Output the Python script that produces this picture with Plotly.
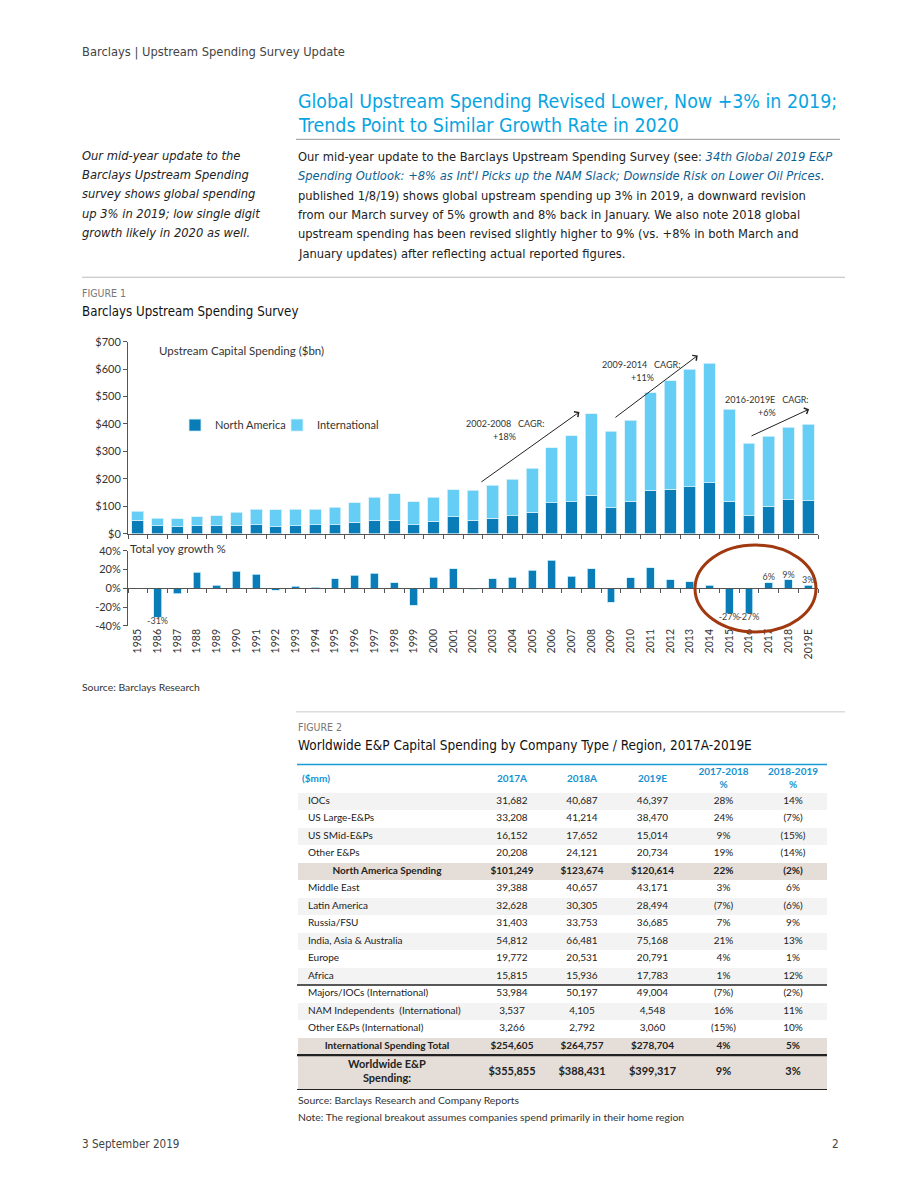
import plotly.graph_objects as go

# ---------------- DATA ----------------
years = ["1985", "1986", "1987", "1988", "1989", "1990", "1991", "1992", "1993", "1994",
         "1995", "1996", "1997", "1998", "1999", "2000", "2001", "2002", "2003", "2004",
         "2005", "2006", "2007", "2008", "2009", "2010", "2011", "2012", "2013", "2014",
         "2015", "2016", "2017", "2018", "2019E"]
north_america = [50, 29, 26, 29, 29, 29, 33, 26, 29, 33, 33, 41, 49, 49, 33, 45, 61, 49, 57, 65,
                 79, 112, 116, 140, 95, 118, 158, 162, 171, 186, 118, 65, 101, 124, 121]
international = [32, 28, 28, 32, 37, 49, 57, 62, 60, 57, 64, 72, 84, 96, 84, 88, 99, 109, 120, 134,
                 160, 202, 242, 297, 279, 296, 355, 395, 429, 435, 335, 264, 255, 264, 278]
growth = [None, -31, -6, 17, 3, 18, 15, -2, 2, 1, 10, 14, 16, 6, -18, 12, 21, -1, 10, 12,
          19, 30, 13, 21, -15, 11, 22, 9, 7, 3, -27, -27, 6, 9, 3]
labeled_years = ["1986", "1987", "1992", "1999", "2002", "2009", "2015", "2016", "2017", "2018", "2019E"]

spend_ticks = [0, 100, 200, 300, 400, 500, 600, 700]
growth_ticks = [-40, -20, 0, 20, 40]

row_labels = ["IOCs", "US Large-E&Ps", "US SMid-E&Ps", "Other E&Ps", "North America Spending",
              "Middle East", "Latin America", "Russia/FSU", "India, Asia & Australia", "Europe", "Africa",
              "Majors/IOCs (International)", "NAM Independents  (International)", "Other E&Ps (International)",
              "International Spending Total", "Worldwide E&P<br>Spending:"]
v2017 = [31682, 33208, 16152, 20208, 101249, 39388, 32628, 31403, 54812, 19772, 15815, 53984, 3537, 3266, 254605, 355855]
v2018 = [40687, 41214, 17652, 24121, 123674, 40657, 30305, 33753, 66481, 20531, 15936, 50197, 4105, 2792, 264757, 388431]
v2019 = [46397, 38470, 15014, 20734, 120614, 43171, 28494, 36685, 75168, 20791, 17783, 49004, 4548, 3060, 278704, 399317]
chg_1718 = [28, 24, 9, 19, 22, 3, -7, 7, 21, 4, 1, -7, 16, -15, 4, 9]
chg_1819 = [14, -7, -15, -14, -2, 6, -6, 9, 13, 1, 12, -2, 11, 10, 5, 3]
total_rows = [4, 14, 15]
table_header = ["($mm)", "2017A", "2018A", "2019E", "2017-2018<br>%", "2018-2019<br>%"]

# ---------------- STYLE ----------------
W, H = 920, 1191
NA_COL = "#0a7db8"
INT_COL = "#66cdf5"
CHART_FONT = "Lato, Calibri, sans-serif"
PAGE_FONT = "DejaVu Sans Condensed, Roboto, sans-serif"
TXT = "#333333"
Y_OFF, Y_SCALE = 6.5, 0.99


def px(x):
    return x / W


def py(y):
    return 1 - ((y - Y_OFF) / Y_SCALE) / H


fig = go.Figure()

# --- Figure 1: stacked bars ---
fig.add_trace(go.Bar(x=years, y=north_america, name="North America", marker_color=NA_COL,
                     marker_line=dict(color="#d6f1fc", width=0.8), width=0.6,
                     xaxis="x", yaxis="y", legend="legend"))
fig.add_trace(go.Bar(x=years, y=international, name="International", marker_color=INT_COL,
                     marker_line=dict(color="#d6f1fc", width=0.8), width=0.6,
                     xaxis="x", yaxis="y", legend="legend2"))

# --- growth bars ---
fig.add_trace(go.Bar(x=years, y=growth, name="growth", showlegend=False, marker_color=NA_COL,
                     marker_line=dict(color="#c6ebfb", width=0.8), width=0.4,
                     xaxis="x2", yaxis="y2"))
g_text = [(f"{g}%" if (yr in labeled_years and g is not None) else "") for yr, g in zip(years, growth)]
g_pos = [("bottom center" if (g is not None and g < 0) else "top center") for g in growth]
fig.add_trace(go.Scatter(x=years, y=growth, mode="text", text=g_text, textposition=g_pos,
                         textfont=dict(family=CHART_FONT, size=9, color="#444"),
                         showlegend=False, hoverinfo="skip", cliponaxis=False,
                         xaxis="x3", yaxis="y2"))

# --- Figure 2: table drawn on its own (hidden) axes, in pixel-like units ---
TBL_W = 530
col_edges = [0, 180, 250, 320, 391, 462, 530]
col_centers = [(a + b) / 2 for a, b in zip(col_edges[:-1], col_edges[1:])]
HDR_H = 29
n = len(row_labels)
row_h = [35 if i == n - 1 else 17.5 for i in range(n)]
row_top = []
acc = HDR_H
for h_ in row_h:
    row_top.append(acc)
    acc += h_
TBL_H = acc
row_mid = [t + h_ / 2 for t, h_ in zip(row_top, row_h)]
row_fill = [("#e5ded8" if i in total_rows else ("#f3f3f3" if i % 2 == 0 else "#ffffff")) for i in range(n)]

fig.add_trace(go.Bar(orientation="h", y=row_mid, x=[TBL_W] * n, base=[0] * n, width=row_h,
                     marker=dict(color=row_fill, line=dict(color="white", width=1)),
                     showlegend=False, hoverinfo="skip", xaxis="x4", yaxis="y4"))


def fmt_pct(v):
    return f"{v}%" if v >= 0 else f"({-v}%)"


def bold_if(s, i):
    return f"<b>{s}</b>" if i in total_rows else s


cell_font = dict(family=CHART_FONT, size=[11 if i == n - 1 else 10 for i in range(n)], color="#222")
fig.add_trace(go.Scatter(
    x=[col_edges[1] / 2 if i in total_rows else 11 for i in range(n)], y=row_mid, mode="text",
    text=[bold_if(lab, i) for i, lab in enumerate(row_labels)],
    textposition=["middle center" if i in total_rows else "middle right" for i in range(n)],
    textfont=cell_font, showlegend=False, hoverinfo="skip", cliponaxis=False, xaxis="x4", yaxis="y4"))
num_cols = [
    [bold_if(f"${v:,}" if i in total_rows else f"{v:,}", i) for i, v in enumerate(v2017)],
    [bold_if(f"${v:,}" if i in total_rows else f"{v:,}", i) for i, v in enumerate(v2018)],
    [bold_if(f"${v:,}" if i in total_rows else f"{v:,}", i) for i, v in enumerate(v2019)],
    [bold_if(fmt_pct(v), i) for i, v in enumerate(chg_1718)],
    [bold_if(fmt_pct(v), i) for i, v in enumerate(chg_1819)],
]
for k, col in enumerate(num_cols):
    fig.add_trace(go.Scatter(x=[col_centers[k + 1]] * n, y=row_mid, mode="text", text=col,
                             textposition="middle center", textfont=cell_font,
                             showlegend=False, hoverinfo="skip", cliponaxis=False,
                             xaxis="x4", yaxis="y4"))
fig.add_trace(go.Scatter(
    x=[5] + col_centers[1:], y=[HDR_H / 2 + 1] * 6, mode="text",
    text=[f"<b>{h}</b>" for h in table_header],
    textposition=["middle right"] + ["middle center"] * 5,
    textfont=dict(family=CHART_FONT, size=10, color="#1592d2"),
    showlegend=False, hoverinfo="skip", cliponaxis=False, xaxis="x4", yaxis="y4"))

# ---------------- LAYOUT ----------------
dom_x = [px(128), px(818)]
axis_common = dict(showgrid=False, zeroline=False, linecolor="#555", linewidth=1,
                   tickcolor="#555", tickfont=dict(family=CHART_FONT, size=11, color=TXT))
hidden = dict(visible=False, showgrid=False, zeroline=False, fixedrange=True)
legend_common = dict(orientation="h", y=py(425), xanchor="left", yanchor="middle",
                     font=dict(family=CHART_FONT, size=11, color=TXT), bgcolor="rgba(0,0,0,0)",
                     itemwidth=30)

fig.update_layout(
    width=W, height=H, margin=dict(l=0, r=0, t=0, b=0),
    paper_bgcolor="white", plot_bgcolor="rgba(0,0,0,0)",
    barmode="stack", bargap=0.4,
    font=dict(family=CHART_FONT, color=TXT),
    showlegend=True,
    legend=dict(x=px(175), **legend_common),
    legend2=dict(x=px(277), **legend_common),
    xaxis=dict(domain=dom_x, anchor="y", type="category", range=[-0.5, 34.5],
               showticklabels=False, ticks="outside", ticklen=4, tickson="boundaries",
               showline=True, **axis_common),
    yaxis=dict(domain=[py(533.7), py(341.5)], anchor="x", range=[0, 700], tickmode="array",
               tickvals=spend_ticks, ticktext=[f"${v}" for v in spend_ticks],
               ticks="outside", ticklen=4, showline=True, **axis_common),
    xaxis2=dict(domain=dom_x, anchor="y2", type="category", range=[-0.5, 34.5],
                showline=False, ticks="", tickangle=-90,
                showgrid=False, zeroline=False,
                tickfont=dict(family=CHART_FONT, size=10.5, color=TXT)),
    xaxis3=dict(overlaying="x2", anchor="free", position=py(588.5), type="category",
                range=[-0.5, 34.5], showticklabels=False, ticks="outside", ticklen=4,
                tickson="boundaries", showline=True, **axis_common),
    yaxis2=dict(domain=[py(626), py(550.7)], anchor="x2", range=[-40, 40], tickmode="array",
                tickvals=growth_ticks, ticktext=[f"{v}%" for v in growth_ticks],
                ticks="outside", ticklen=4, showline=True, **axis_common),
    xaxis4=dict(domain=[px(297), px(827)], anchor="y4", range=[0, TBL_W], **hidden),
    yaxis4=dict(domain=[py(764 + TBL_H), py(764)], anchor="x4", range=[TBL_H, 0], **hidden),
)

ann = []


def txt(x, y, s, size, color=TXT, family=PAGE_FONT, anchor="left"):
    dx = -2 if anchor == "left" else 3
    ann.append(dict(x=px(x + dx), y=py(y), xref="paper", yref="paper", text=s, showarrow=False,
                    xanchor=anchor, yanchor="middle",
                    font=dict(family=family, size=size, color=color)))


txt(82, 52, "Barclays | Upstream Spending Survey Update", 12.8, "#444")
TITLE_BLUE = "#08a4e2"
txt(298, 101, "Global Upstream Spending Revised Lower, Now +3% in 2019;", 19.4, TITLE_BLUE)
txt(298, 125, "Trends Point to Similar Growth Rate in 2020", 19.4, TITLE_BLUE)
side = ["Our mid-year update to the", "Barclays Upstream Spending", "survey shows global spending",
        "up 3% in 2019; low single digit", "growth likely in 2020 as well."]
for i, s in enumerate(side):
    txt(82, 155 + i * 19.3, f"<i>{s}</i>", 12.8, "#222")
LINK = "#0d5f92"
body = [
    "Our mid-year update to the Barclays Upstream Spending Survey (see: "
    f"<i><span style='color:{LINK}'>34th Global 2019 E&P</span></i>",
    f"<i><span style='color:{LINK}'>Spending Outlook: +8% as Int'l Picks up the NAM Slack; Downside Risk on Lower Oil Prices</span></i>.",
    "published 1/8/19) shows global upstream spending up 3% in 2019, a downward revision",
    "from our March survey of 5% growth and 8% back in January. We also note 2018 global",
    "upstream spending has been revised slightly higher to 9% (vs. +8% in both March and",
    "January updates) after reflecting actual reported figures.",
]
for i, s in enumerate(body):
    txt(298, 156 + i * 19.4, s, 12.8, "#222")
txt(82, 293, "FIGURE 1", 10.5, "#777")
txt(82, 311, "Barclays Upstream Spending Survey", 13.2, "#111")
txt(159, 350, "Upstream Capital Spending ($bn)", 11.5, TXT, CHART_FONT)
txt(130, 549, "Total yoy growth %", 11.5, TXT, CHART_FONT)
txt(82, 687, "Source: Barclays Research", 10.4, "#333", CHART_FONT)
txt(298, 727, "FIGURE 2", 10.5, "#777")
txt(298, 745, "Worldwide E&P Capital Spending by Company Type / Region, 2017A-2019E", 13.5, "#111")
txt(298, 1101, "Source: Barclays Research and Company Reports", 10.4, "#333", CHART_FONT)
txt(298, 1118, "Note: The regional breakout assumes companies spend primarily in their home region", 10.4, "#333", CHART_FONT)
txt(82, 1145, "3 September 2019", 11.6, "#444")
txt(838, 1145, "2", 11.6, "#444", anchor="right")


def cagr(xi, yv, s):
    ann.append(dict(x=xi, y=yv, xref="x", yref="y", text=s, showarrow=False,
                    font=dict(family=CHART_FONT, size=9, color="#333"), xanchor="center", yanchor="middle"))


cagr(18.6, 400, "2002-2008&nbsp;&nbsp; CAGR:")
cagr(18.6, 355, "+18%")
cagr(25.5, 617, "2009-2014&nbsp;&nbsp; CAGR:")
cagr(25.6, 570, "+11%")
cagr(31.9, 490, "2016-2019E&nbsp;&nbsp; CAGR:")
cagr(31.9, 443, "+6%")

for (tx, ty, hx, hy) in [(17.35, 185, 22.4, 444), (24.15, 420, 28.4, 650), (31.05, 354, 34.05, 454)]:
    ann.append(dict(x=hx, y=hy, ax=tx, ay=ty, xref="x", yref="y", axref="x", ayref="y",
                    text="", showarrow=True, arrowhead=4, arrowsize=1.3, arrowwidth=1, arrowcolor="#222"))

fig.update_layout(annotations=ann)

shapes = [
    dict(type="line", xref="paper", yref="paper", x0=px(296), x1=px(840), y0=py(139), y1=py(139),
         line=dict(color="#aaaaaa", width=1.2)),
    dict(type="line", xref="paper", yref="paper", x0=px(82), x1=px(845), y0=py(277), y1=py(277),
         line=dict(color="#bbbbbb", width=1.2)),
    dict(type="line", xref="paper", yref="paper", x0=px(296), x1=px(845), y0=py(712), y1=py(712),
         line=dict(color="#cccccc", width=1)),
    dict(type="circle", xref="paper", yref="paper", x0=px(695), x1=px(816), y0=py(632), y1=py(545),
         line=dict(color="#a0390f", width=3)),
    dict(type="line", xref="x4", yref="y4", x0=0, x1=TBL_W, y0=0, y1=0,
         line=dict(color="#1a9ad6", width=3)),
]
for y_t, w_ in [(row_top[11], 1.5), (row_top[15], 2.2), (TBL_H, 2.2)]:
    shapes.append(dict(type="line", xref="x4", yref="y4", x0=0, x1=TBL_W, y0=y_t, y1=y_t,
                       line=dict(color="#222", width=w_)))
fig.update_layout(shapes=shapes)

fig.write_html("out.html", config={"displayModeBar": False},
               post_script="document.body.style.margin='0';document.body.style.overflow='hidden';")
